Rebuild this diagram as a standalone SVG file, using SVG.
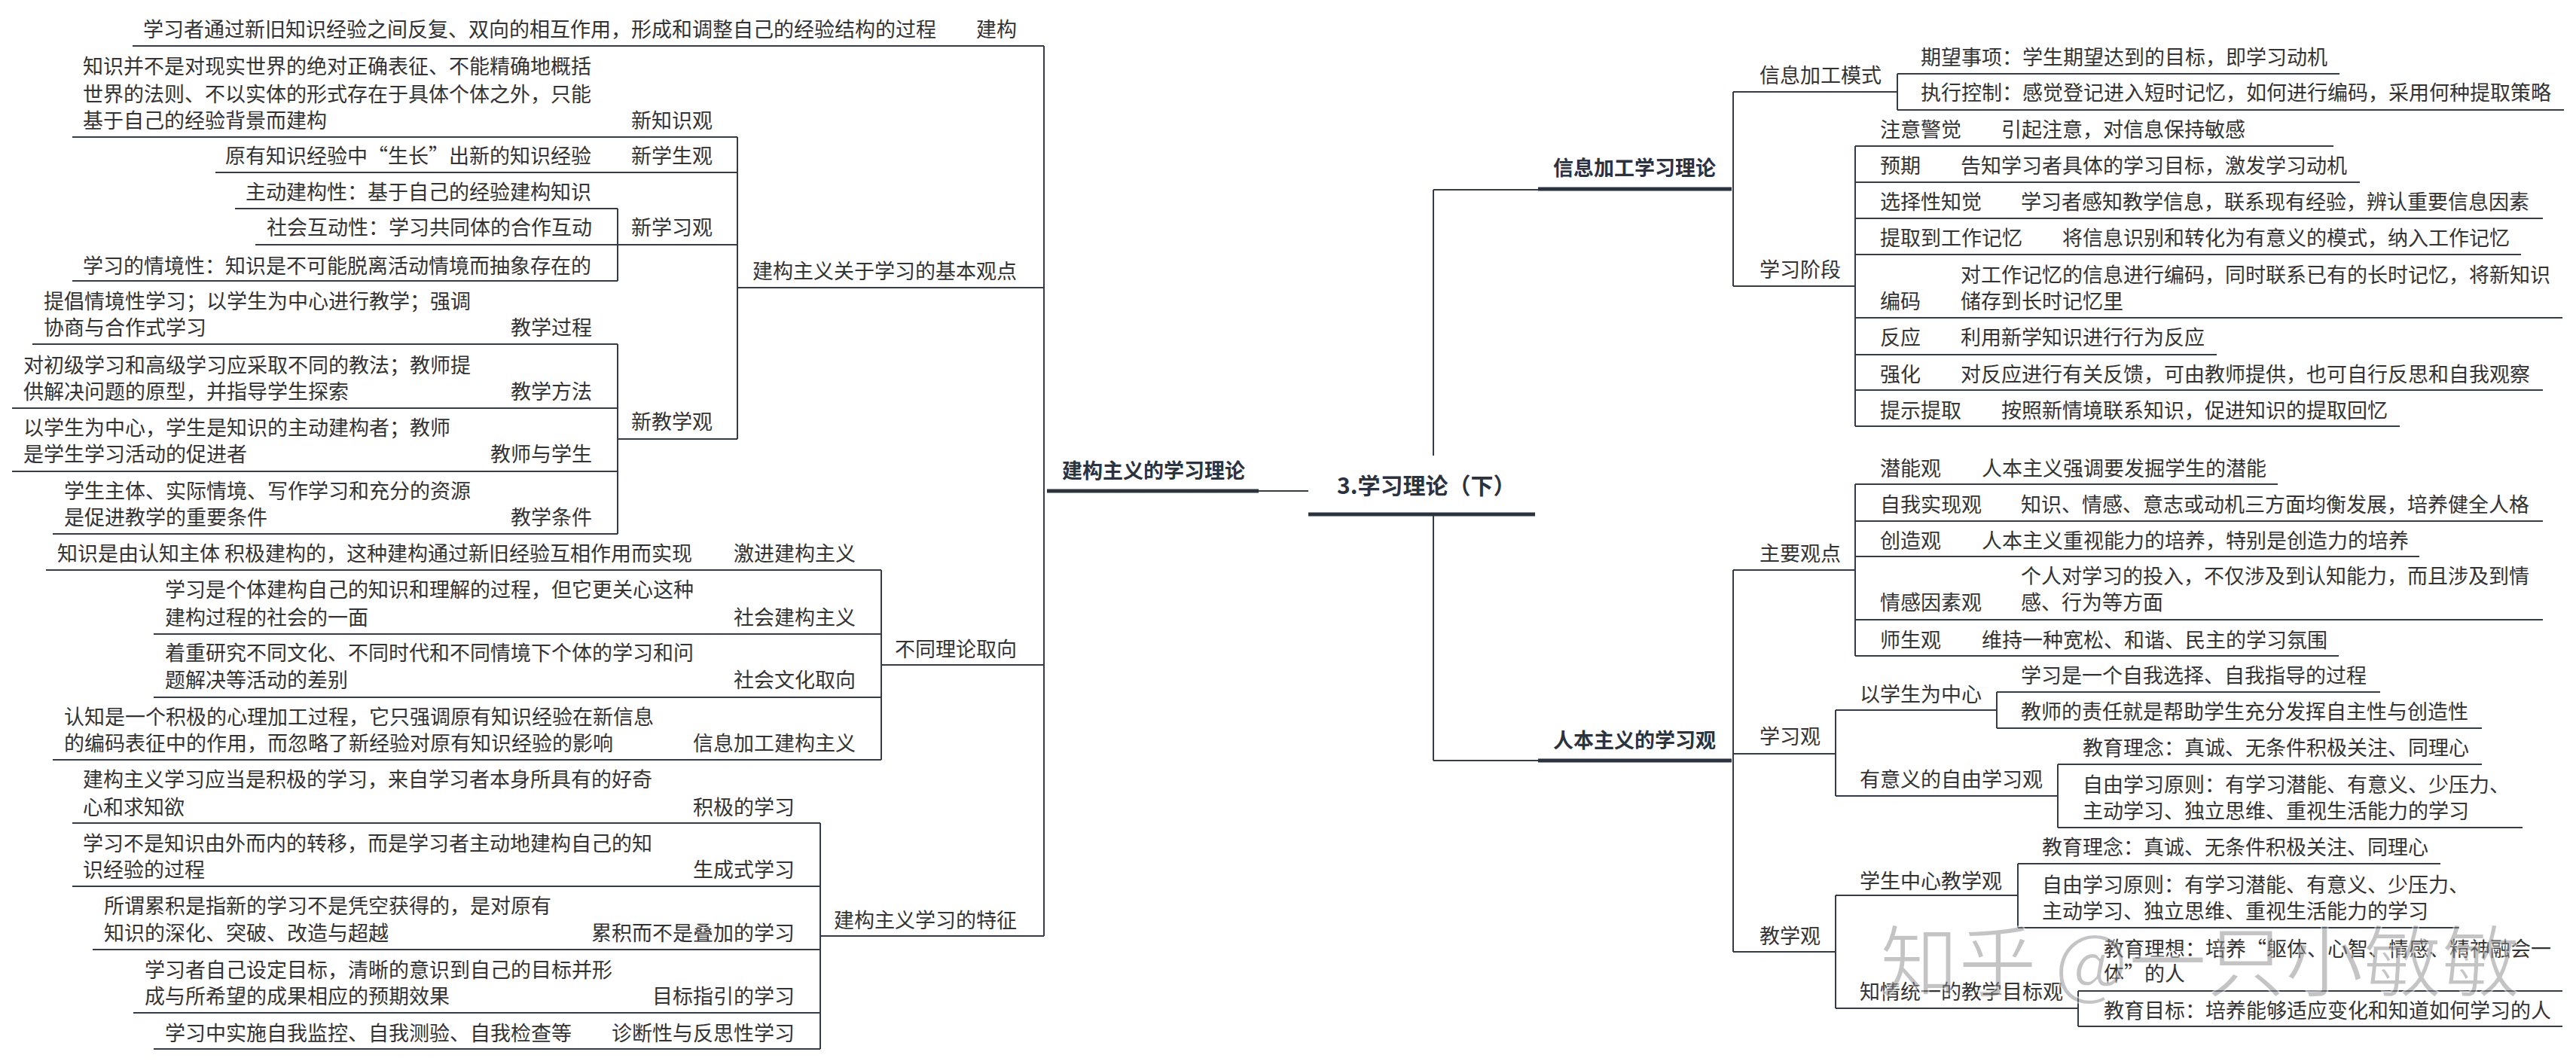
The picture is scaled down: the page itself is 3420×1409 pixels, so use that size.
<svg xmlns="http://www.w3.org/2000/svg" width="3420" height="1409" viewBox="0 0 3420 1409">
<style>
text{font-family:"Noto Sans CJK SC","Microsoft YaHei",sans-serif;font-size:27px;fill:#333;}
.b{font-weight:bold;fill:#2b3240;}
.r{font-size:30px;}
.e{text-anchor:end;}
.u{stroke:#353b48;stroke-width:2;fill:none;}
.k{stroke:#2b3240;stroke-width:5;fill:none;}
.c{stroke:#353b48;stroke-width:2;fill:none;}
.wm{font-size:104px;fill:#8a8a8a;opacity:0.5;stroke:#fff;stroke-width:2;}
</style>
<rect width="3420" height="1409" fill="#fff"/>

<g id="connectors">
<path class="c" d="M1386 61V1243"/>
<path class="c" d="M1671 652H1737"/>
<path class="c" d="M979 182V583"/>
<path class="c" d="M820 277V373"/>
<path class="c" d="M820 457V709"/>
<path class="c" d="M1170 757V1009"/>
<path class="c" d="M1089 1093V1393"/>
<path class="c" d="M1903 252V605M1903 683V1010"/>
<path class="c" d="M1903 252H2042M1903 1010H2042"/>
<path class="c" d="M2301 122V380"/>
<path class="c" d="M2519 98V146"/>
<path class="c" d="M2463 194V566"/>
<path class="c" d="M2301 757V1264"/>
<path class="c" d="M2463 643V871"/>
<path class="c" d="M2437 943V1057"/>
<path class="c" d="M2651 919V967"/>
<path class="c" d="M2732 1015V1099"/>
<path class="c" d="M2437 1189V1339"/>
<path class="c" d="M2679 1147V1232"/>
<path class="c" d="M2759 1316V1363"/>
</g>

<g id="root">
<text class="b r" x="1775" y="656">3.学习理论（下）</text>
<line class="k" x1="1737" y1="683" x2="2038" y2="683"/>
</g>

<!-- LEFT -->
<g id="n-constructivism">
<text class="b" x="1410" y="635">建构主义的学习理论</text>
<line class="k" x1="1390" y1="652" x2="1671" y2="652"/>
</g>

<g id="n-jiangou">
<text x="190" y="49">学习者通过新旧知识经验之间反复、双向的相互作用，形成和调整自己的经验结构的过程</text>
<text class="e" x="1350" y="49">建构</text>
<line class="u" x1="176" y1="61" x2="1386" y2="61"/>
</g>

<g id="n-basic">
<text class="e" x="1350" y="370">建构主义关于学习的基本观点</text>
<line class="u" x1="979" y1="382" x2="1386" y2="382"/>
</g>
<g id="n-xinzhishi">
<text x="110" y="98">知识并不是对现实世界的绝对正确表征、不能精确地概括</text>
<text x="110" y="135">世界的法则、不以实体的形式存在于具体个体之外，只能</text>
<text x="110" y="170">基于自己的经验背景而建构</text>
<text class="e" x="946" y="170">新知识观</text>
<line class="u" x1="96" y1="182" x2="979" y2="182"/>
</g>
<g id="n-xinxuesheng">
<text x="299" y="217">原有知识经验中“生长”出新的知识经验</text>
<text class="e" x="946" y="217">新学生观</text>
<line class="u" x1="286" y1="229" x2="979" y2="229"/>
</g>
<g id="n-xinxuexi">
<text class="e" x="946" y="312">新学习观</text>
<line class="u" x1="820" y1="325" x2="979" y2="325"/>
</g>
<g id="n-xx1">
<text x="326" y="265">主动建构性：基于自己的经验建构知识</text>
<line class="u" x1="312" y1="277" x2="820" y2="277"/>
</g>
<g id="n-xx2">
<text x="354" y="312">社会互动性：学习共同体的合作互动</text>
<line class="u" x1="339" y1="325" x2="820" y2="325"/>
</g>
<g id="n-xx3">
<text x="110" y="363">学习的情境性：知识是不可能脱离活动情境而抽象存在的</text>
<line class="u" x1="96" y1="373" x2="820" y2="373"/>
</g>
<g id="n-xinjiaoxue">
<text class="e" x="946" y="570">新教学观</text>
<line class="u" x1="820" y1="583" x2="979" y2="583"/>
</g>
<g id="n-jx1">
<text x="58" y="410">提倡情境性学习；以学生为中心进行教学；强调</text>
<text x="58" y="445">协商与合作式学习</text>
<text class="e" x="786" y="445">教学过程</text>
<line class="u" x1="43" y1="457" x2="820" y2="457"/>
</g>
<g id="n-jx2">
<text x="31" y="495">对初级学习和高级学习应采取不同的教法；教师提</text>
<text x="31" y="530">供解决问题的原型，并指导学生探索</text>
<text class="e" x="786" y="530">教学方法</text>
<line class="u" x1="16" y1="542" x2="820" y2="542"/>
</g>
<g id="n-jx3">
<text x="31" y="578">以学生为中心，学生是知识的主动建构者；教师</text>
<text x="31" y="613">是学生学习活动的促进者</text>
<text class="e" x="786" y="613">教师与学生</text>
<line class="u" x1="16" y1="626" x2="820" y2="626"/>
</g>
<g id="n-jx4">
<text x="85" y="662">学生主体、实际情境、写作学习和充分的资源</text>
<text x="85" y="697">是促进教学的重要条件</text>
<text class="e" x="786" y="697">教学条件</text>
<line class="u" x1="70" y1="709" x2="820" y2="709"/>
</g>

<g id="n-orient">
<text class="e" x="1350" y="872">不同理论取向</text>
<line class="u" x1="1170" y1="883" x2="1386" y2="883"/>
</g>
<g id="n-or1">
<text x="76" y="745">知识是由认知主体 积极建构的，这种建构通过新旧经验互相作用而实现</text>
<text class="e" x="1136" y="745">激进建构主义</text>
<line class="u" x1="61" y1="757" x2="1170" y2="757"/>
</g>
<g id="n-or2">
<text x="219" y="793">学习是个体建构自己的知识和理解的过程，但它更关心这种</text>
<text x="219" y="830">建构过程的社会的一面</text>
<text class="e" x="1136" y="830">社会建构主义</text>
<line class="u" x1="204" y1="842" x2="1170" y2="842"/>
</g>
<g id="n-or3">
<text x="219" y="877">着重研究不同文化、不同时代和不同情境下个体的学习和问</text>
<text x="219" y="913">题解决等活动的差别</text>
<text class="e" x="1136" y="913">社会文化取向</text>
<line class="u" x1="204" y1="926" x2="1170" y2="926"/>
</g>
<g id="n-or4">
<text x="85" y="962">认知是一个积极的心理加工过程，它只强调原有知识经验在新信息</text>
<text x="85" y="997">的编码表征中的作用，而忽略了新经验对原有知识经验的影响</text>
<text class="e" x="1136" y="997">信息加工建构主义</text>
<line class="u" x1="70" y1="1009" x2="1170" y2="1009"/>
</g>

<g id="n-feature">
<text class="e" x="1350" y="1232">建构主义学习的特征</text>
<line class="u" x1="1089" y1="1243" x2="1386" y2="1243"/>
</g>
<g id="n-f1">
<text x="110" y="1045">建构主义学习应当是积极的学习，来自学习者本身所具有的好奇</text>
<text x="110" y="1082">心和求知欲</text>
<text class="e" x="1055" y="1082">积极的学习</text>
<line class="u" x1="96" y1="1093" x2="1089" y2="1093"/>
</g>
<g id="n-f2">
<text x="110" y="1130">学习不是知识由外而内的转移，而是学习者主动地建构自己的知</text>
<text x="110" y="1165">识经验的过程</text>
<text class="e" x="1055" y="1165">生成式学习</text>
<line class="u" x1="96" y1="1177" x2="1089" y2="1177"/>
</g>
<g id="n-f3">
<text x="138" y="1213">所谓累积是指新的学习不是凭空获得的，是对原有</text>
<text x="138" y="1249">知识的深化、突破、改造与超越</text>
<text class="e" x="1055" y="1249">累积而不是叠加的学习</text>
<line class="u" x1="123" y1="1261" x2="1089" y2="1261"/>
</g>
<g id="n-f4">
<text x="192" y="1298">学习者自己设定目标，清晰的意识到自己的目标并形</text>
<text x="192" y="1333">成与所希望的成果相应的预期效果</text>
<text class="e" x="1055" y="1333">目标指引的学习</text>
<line class="u" x1="177" y1="1345" x2="1089" y2="1345"/>
</g>
<g id="n-f5">
<text x="219" y="1382">学习中实施自我监控、自我测验、自我检查等</text>
<text class="e" x="1055" y="1382">诊断性与反思性学习</text>
<line class="u" x1="204" y1="1393" x2="1089" y2="1393"/>
</g>

<!-- RIGHT -->
<g id="n-info">
<text class="b" x="2062" y="233">信息加工学习理论</text>
<line class="k" x1="2042" y1="251" x2="2299" y2="251"/>
</g>
<g id="n-mode">
<text x="2336" y="110">信息加工模式</text>
<line class="u" x1="2301" y1="122" x2="2519" y2="122"/>
</g>
<g id="n-m1">
<text x="2550" y="86">期望事项：学生期望达到的目标，即学习动机</text>
<line class="u" x1="2519" y1="98" x2="3106" y2="98"/>
</g>
<g id="n-m2">
<text x="2550" y="133">执行控制：感觉登记进入短时记忆，如何进行编码，采用何种提取策略</text>
<line class="u" x1="2519" y1="146" x2="3404" y2="146"/>
</g>
<g id="n-stage">
<text x="2336" y="368">学习阶段</text>
<line class="u" x1="2301" y1="380" x2="2463" y2="380"/>
</g>
<g id="n-s1">
<text x="2496" y="182">注意警觉</text><text x="2657" y="182">引起注意，对信息保持敏感</text>
<line class="u" x1="2463" y1="194" x2="3098" y2="194"/>
</g>
<g id="n-s2">
<text x="2496" y="230">预期</text><text x="2603" y="230">告知学习者具体的学习目标，激发学习动机</text>
<line class="u" x1="2463" y1="242" x2="3133" y2="242"/>
</g>
<g id="n-s3">
<text x="2496" y="278">选择性知觉</text><text x="2683" y="278">学习者感知教学信息，联系现有经验，辨认重要信息因素</text>
<line class="u" x1="2463" y1="290" x2="3376" y2="290"/>
</g>
<g id="n-s4">
<text x="2496" y="326">提取到工作记忆</text><text x="2738" y="326">将信息识别和转化为有意义的模式，纳入工作记忆</text>
<line class="u" x1="2463" y1="338" x2="3347" y2="338"/>
</g>
<g id="n-s5">
<text x="2603" y="375">对工作记忆的信息进行编码，同时联系已有的长时记忆，将新知识</text>
<text x="2496" y="410">编码</text><text x="2603" y="410">储存到长时记忆里</text>
<line class="u" x1="2463" y1="422" x2="3402" y2="422"/>
</g>
<g id="n-s6">
<text x="2496" y="458">反应</text><text x="2603" y="458">利用新学知识进行行为反应</text>
<line class="u" x1="2463" y1="471" x2="2943" y2="471"/>
</g>
<g id="n-s7">
<text x="2496" y="507">强化</text><text x="2603" y="507">对反应进行有关反馈，可由教师提供，也可自行反思和自我观察</text>
<line class="u" x1="2463" y1="518" x2="3376" y2="518"/>
</g>
<g id="n-s8">
<text x="2496" y="555">提示提取</text><text x="2657" y="555">按照新情境联系知识，促进知识的提取回忆</text>
<line class="u" x1="2463" y1="566" x2="3186" y2="566"/>
</g>

<g id="n-human">
<text class="b" x="2062" y="993">人本主义的学习观</text>
<line class="k" x1="2042" y1="1010" x2="2299" y2="1010"/>
</g>
<g id="n-main">
<text x="2336" y="745">主要观点</text>
<line class="u" x1="2301" y1="757" x2="2463" y2="757"/>
</g>
<g id="n-h1">
<text x="2496" y="632">潜能观</text><text x="2631" y="632">人本主义强调要发掘学生的潜能</text>
<line class="u" x1="2463" y1="643" x2="3024" y2="643"/>
</g>
<g id="n-h2">
<text x="2496" y="680">自我实现观</text><text x="2683" y="680">知识、情感、意志或动机三方面均衡发展，培养健全人格</text>
<line class="u" x1="2463" y1="692" x2="3376" y2="692"/>
</g>
<g id="n-h3">
<text x="2496" y="728">创造观</text><text x="2631" y="728">人本主义重视能力的培养，特别是创造力的培养</text>
<line class="u" x1="2463" y1="739" x2="3212" y2="739"/>
</g>
<g id="n-h4">
<text x="2683" y="775">个人对学习的投入，不仅涉及到认知能力，而且涉及到情</text>
<text x="2496" y="810">情感因素观</text><text x="2683" y="810">感、行为等方面</text>
<line class="u" x1="2463" y1="823" x2="3376" y2="823"/>
</g>
<g id="n-h5">
<text x="2496" y="860">师生观</text><text x="2631" y="860">维持一种宽松、和谐、民主的学习氛围</text>
<line class="u" x1="2463" y1="871" x2="3105" y2="871"/>
</g>
<g id="n-learn">
<text x="2336" y="988">学习观</text>
<line class="u" x1="2301" y1="1001" x2="2437" y2="1001"/>
</g>
<g id="n-center">
<text x="2469" y="932">以学生为中心</text>
<line class="u" x1="2437" y1="943" x2="2651" y2="943"/>
</g>
<g id="n-c1">
<text x="2683" y="907">学习是一个自我选择、自我指导的过程</text>
<line class="u" x1="2651" y1="919" x2="3160" y2="919"/>
</g>
<g id="n-c2">
<text x="2683" y="955">教师的责任就是帮助学生充分发挥自主性与创造性</text>
<line class="u" x1="2651" y1="967" x2="3295" y2="967"/>
</g>
<g id="n-free">
<text x="2469" y="1045">有意义的自由学习观</text>
<line class="u" x1="2437" y1="1057" x2="2732" y2="1057"/>
</g>
<g id="n-fr1">
<text x="2765" y="1003">教育理念：真诚、无条件积极关注、同理心</text>
<line class="u" x1="2732" y1="1015" x2="3295" y2="1015"/>
</g>
<g id="n-fr2">
<text x="2765" y="1052">自由学习原则：有学习潜能、有意义、少压力、</text>
<text x="2765" y="1087">主动学习、独立思维、重视生活能力的学习</text>
<line class="u" x1="2732" y1="1099" x2="3349" y2="1099"/>
</g>
<g id="n-teach">
<text x="2336" y="1253">教学观</text>
<line class="u" x1="2301" y1="1264" x2="2437" y2="1264"/>
</g>
<g id="n-stc">
<text x="2469" y="1180">学生中心教学观</text>
<line class="u" x1="2437" y1="1189" x2="2679" y2="1189"/>
</g>
<g id="n-st1">
<text x="2711" y="1135">教育理念：真诚、无条件积极关注、同理心</text>
<line class="u" x1="2679" y1="1147" x2="3240" y2="1147"/>
</g>
<g id="n-st2">
<text x="2711" y="1185">自由学习原则：有学习潜能、有意义、少压力、</text>
<text x="2711" y="1220">主动学习、独立思维、重视生活能力的学习</text>
<line class="u" x1="2679" y1="1232" x2="3265" y2="1232"/>
</g>
<g id="n-goal">
<text x="2469" y="1327">知情统一的教学目标观</text>
<line class="u" x1="2437" y1="1339" x2="2759" y2="1339"/>
</g>
<g id="n-g1">
<text x="2793" y="1270">教育理想：培养“躯体、心智、情感、精神融会一</text>
<text x="2793" y="1303">体”的人</text>
<line class="u" x1="2759" y1="1316" x2="3402" y2="1316"/>
</g>
<g id="n-g2">
<text x="2793" y="1352">教育目标：培养能够适应变化和知道如何学习的人</text>
<line class="u" x1="2759" y1="1363" x2="3402" y2="1363"/>
</g>

<g id="watermark">
<text class="wm" x="2496" y="1316">知乎 @一只小敏敏</text>
</g>
</svg>
